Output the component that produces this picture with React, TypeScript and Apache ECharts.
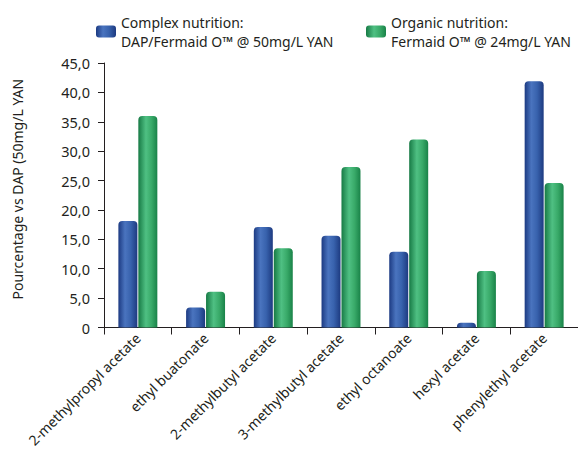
import React, { useEffect, useRef } from "react";
import * as echarts from "echarts";

const categories = [
  "2-methylpropyl acetate",
  "ethyl buatonate",
  "2-methylbutyl acetate",
  "3-methylbutyl acetate",
  "ethyl octanoate",
  "hexyl acetate",
  "phenylethyl acetate",
];
const complexValues = [18.1, 3.4, 17.1, 15.6, 12.9, 0.8, 41.9];
const organicValues = [36.0, 6.1, 13.5, 27.3, 32.0, 9.6, 24.6];
const complexName = "Complex nutrition:\nDAP/Fermaid O™ @ 50mg/L YAN";
const organicName = "Organic nutrition:\nFermaid O™ @ 24mg/L YAN";
const yAxisName = "Pourcentage vs DAP (50mg/L YAN";

const FONT = "Noto Sans";
const TEXT = "#231f20";

const blueGrad = new echarts.graphic.LinearGradient(0, 0, 1, 0, [
  { offset: 0, color: "#1c3a82" },
  { offset: 0.35, color: "#4a74bf" },
  { offset: 0.65, color: "#3862ad" },
  { offset: 1, color: "#1d3a80" },
]);
const greenGrad = new echarts.graphic.LinearGradient(0, 0, 1, 0, [
  { offset: 0, color: "#177a45" },
  { offset: 0.4, color: "#4fc083" },
  { offset: 0.7, color: "#38a968" },
  { offset: 1, color: "#198248" },
]);

export default function App() {
  const ref = useRef<HTMLDivElement>(null);
  useEffect(() => {
    if (!ref.current) return;
    const chart = echarts.init(ref.current, null, { renderer: "svg" });
    const legendText = {
      color: TEXT,
      fontFamily: FONT,
      fontSize: 14,
      lineHeight: 19,
      padding: [19, 0, 0, 0],
    };
    chart.setOption({
      animation: false,
      backgroundColor: "#ffffff",
      textStyle: { fontFamily: FONT, color: TEXT },
      legend: [
        {
          data: [complexName],
          left: 91,
          top: -2,
          itemWidth: 20,
          itemHeight: 12,
          itemGap: 0,
          icon: "roundRect",
          textStyle: legendText,
        },
        {
          data: [organicName],
          left: 361,
          top: -2,
          itemWidth: 20,
          itemHeight: 12,
          itemGap: 0,
          icon: "roundRect",
          textStyle: legendText,
        },
      ],
      grid: { left: 104, top: 63, right: -4, bottom: 126.5, containLabel: false },
      xAxis: {
        type: "category",
        data: categories,
        axisLine: { lineStyle: { color: "#231f20", width: 1 } },
        axisTick: { show: true, length: 7, alignWithLabel: false, lineStyle: { color: "#231f20" } },
        axisLabel: {
          rotate: 45,
          color: TEXT,
          fontFamily: FONT,
          fontSize: 14,
          margin: 8,
          interval: 0,
        },
      },
      yAxis: {
        type: "value",
        min: 0,
        max: 45,
        interval: 5,
        name: yAxisName,
        nameLocation: "middle",
        nameGap: 80,
        nameTextStyle: { color: TEXT, fontFamily: FONT, fontSize: 14, padding: [0, 0, 0, 12] },
        splitLine: { show: false },
        axisLine: { show: true, lineStyle: { color: "#231f20", width: 1 } },
        axisTick: { show: true, length: 6, lineStyle: { color: "#231f20" } },
        axisLabel: {
          color: TEXT,
          fontFamily: FONT,
          fontSize: 14.5,
          margin: 14,
          formatter: (v: number) => (v === 0 ? "0" : v.toFixed(1).replace(".", ",")),
        },
      },
      series: [
        {
          name: complexName,
          type: "bar",
          data: complexValues,
          barWidth: 19,
          barGap: "5%",
          itemStyle: { color: blueGrad, borderRadius: [4, 4, 0, 0] },
        },
        {
          name: organicName,
          type: "bar",
          data: organicValues,
          barWidth: 19,
          itemStyle: { color: greenGrad, borderRadius: [4, 4, 0, 0] },
        },
      ],
    });
    return () => chart.dispose();
  }, []);
  return (
    <div
      ref={ref}
      style={{ position: "fixed", left: 0, top: 0, width: 578, height: 454 }}
    />
  );
}
